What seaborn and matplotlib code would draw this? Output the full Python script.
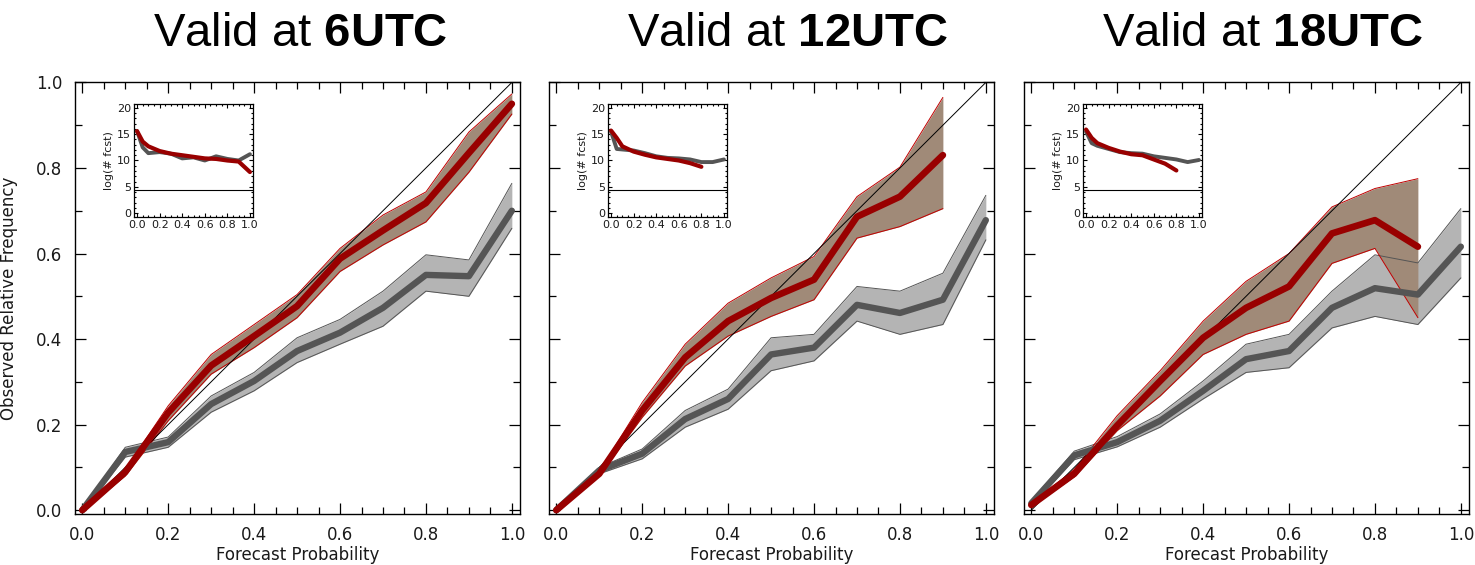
"""
Reliability diagrams valid at 6, 12 and 18 UTC, with forecast-count insets.
"""

import numpy as np
import pandas as pd
import matplotlib
matplotlib.use("Agg")
import matplotlib.pyplot as plt
from matplotlib.ticker import MultipleLocator
import seaborn as sns

sns.set_theme(style="ticks")
plt.rcParams["font.family"] = ["DejaVu Sans"]
plt.rcParams["text.color"] = "black"
plt.rcParams["mathtext.fontset"] = "custom"
plt.rcParams["mathtext.rm"] = "Liberation Sans"
plt.rcParams["mathtext.bf"] = "Liberation Sans:bold"

# ---- data ----
hours = ["6UTC", "12UTC", "18UTC"]
prob = [0.0, 0.1, 0.2, 0.3, 0.4, 0.5, 0.6, 0.7, 0.8, 0.9, 1.0]
inset_prob = [0.0, 0.05, 0.1, 0.2, 0.3, 0.4, 0.5, 0.6, 0.7, 0.8, 0.9, 1.0]

# red curve (ends at 0.9 for 12/18 UTC)
red_6 = [0.0, 0.089, 0.228, 0.338, 0.407, 0.477, 0.588, 0.654, 0.718, 0.835, 0.950]
red_6_lo = [-0.003, 0.080, 0.209, 0.318, 0.380, 0.450, 0.558, 0.620, 0.674, 0.790, 0.926]
red_6_hi = [0.003, 0.095, 0.244, 0.364, 0.434, 0.504, 0.612, 0.690, 0.744, 0.884, 0.973]
red_12 = [0.0, 0.085, 0.233, 0.357, 0.442, 0.496, 0.539, 0.686, 0.733, 0.830]
red_12_lo = [-0.003, 0.080, 0.217, 0.337, 0.407, 0.453, 0.492, 0.636, 0.663, 0.705]
red_12_hi = [0.003, 0.090, 0.252, 0.388, 0.484, 0.543, 0.593, 0.733, 0.802, 0.965]
red_18 = [0.012, 0.085, 0.198, 0.302, 0.403, 0.473, 0.523, 0.647, 0.678, 0.616]
red_18_lo = [0.008, 0.078, 0.186, 0.267, 0.364, 0.411, 0.442, 0.577, 0.612, 0.450]
red_18_hi = [0.016, 0.095, 0.221, 0.326, 0.442, 0.535, 0.600, 0.709, 0.752, 0.775]

# gray curve
gray_6 = [0.0, 0.136, 0.159, 0.248, 0.302, 0.372, 0.415, 0.473, 0.550, 0.547, 0.700]
gray_6_lo = [-0.003, 0.124, 0.147, 0.229, 0.279, 0.345, 0.388, 0.430, 0.512, 0.500, 0.659]
gray_6_hi = [0.003, 0.147, 0.171, 0.267, 0.322, 0.403, 0.446, 0.512, 0.597, 0.585, 0.764]
gray_12 = [0.0, 0.093, 0.132, 0.213, 0.260, 0.364, 0.380, 0.480, 0.461, 0.492, 0.678]
gray_12_lo = [-0.003, 0.085, 0.120, 0.194, 0.236, 0.326, 0.349, 0.442, 0.411, 0.434, 0.632]
gray_12_hi = [0.003, 0.100, 0.143, 0.233, 0.283, 0.403, 0.411, 0.523, 0.512, 0.554, 0.736]
gray_18 = [0.016, 0.128, 0.159, 0.209, 0.279, 0.353, 0.372, 0.473, 0.519, 0.504, 0.616]
gray_18_lo = [0.010, 0.118, 0.148, 0.194, 0.260, 0.322, 0.333, 0.426, 0.453, 0.434, 0.543]
gray_18_hi = [0.022, 0.138, 0.172, 0.225, 0.302, 0.388, 0.411, 0.512, 0.597, 0.578, 0.705]

# inset: log(# fcst)
n_red_6 = [15.6, 13.6, 12.7, 11.8, 11.3, 11.0, 10.7, 10.4, 10.3, 10.0, 9.8, 7.8]
n_gray_6 = [15.6, 12.5, 11.4, 11.6, 11.3, 10.4, 10.6, 10.0, 10.8, 10.3, 10.0, 11.2]
n_red_12 = [15.7, 14.3, 12.7, 11.7, 11.1, 10.6, 10.3, 10.0, 9.5, 8.8]
n_gray_12 = [15.5, 12.2, 12.1, 11.9, 11.4, 10.8, 10.5, 10.4, 10.2, 9.7, 9.7, 10.2]
n_red_18 = [15.9, 14.3, 13.3, 12.4, 11.7, 11.2, 11.0, 10.2, 9.4, 8.1]
n_gray_18 = [15.5, 13.3, 12.8, 12.2, 11.6, 11.4, 11.3, 10.8, 10.5, 10.2, 9.7, 10.1]
n_threshold = 4.4

panels = [
    (red_6, red_6_lo, red_6_hi, gray_6, gray_6_lo, gray_6_hi, n_red_6, n_gray_6),
    (red_12, red_12_lo, red_12_hi, gray_12, gray_12_lo, gray_12_hi, n_red_12, n_gray_12),
    (red_18, red_18_lo, red_18_hi, gray_18, gray_18_lo, gray_18_hi, n_red_18, n_gray_18),
]

RED = "#990000"
RED_EDGE = "#c00000"
BROWN = "#a08a78"
GRAY = "#555555"
GRAY_FILL = "#b4b4b4"

W, H = 1475, 565
fig = plt.figure(figsize=(W / 100, H / 100), dpi=100)
lefts = [75, 549, 1024]

for i, (hour, data) in enumerate(zip(hours, panels)):
    r, r_lo, r_hi, g, g_lo, g_hi, nr, ng = data
    x0 = lefts[i]
    ax = fig.add_axes([x0 / W, (H - 514) / H, 445 / W, 432 / H])
    nr_pts = len(r)

    # bands
    ax.fill_between(prob, g_lo, g_hi, color=GRAY_FILL, lw=0, zorder=1)
    ax.fill_between(prob[:nr_pts], r_lo, r_hi, color=BROWN, lw=0, zorder=2)
    for edge in (g_lo, g_hi):
        ax.plot(prob, edge, color=GRAY, lw=0.7, zorder=3)
    for edge in (r_lo, r_hi):
        ax.plot(prob[:nr_pts], edge, color=RED_EDGE, lw=0.7, zorder=3)

    ax.plot([0, 1], [0, 1], color="black", lw=0.7, zorder=4)

    df = pd.DataFrame({"prob": prob, "obs": g})
    sns.lineplot(data=df, x="prob", y="obs", ax=ax, color=GRAY, lw=4.6, zorder=5)
    df = pd.DataFrame({"prob": prob[:nr_pts], "obs": r})
    sns.lineplot(data=df, x="prob", y="obs", ax=ax, color=RED, lw=4.8, zorder=6)

    ax.set_xlim(-0.017, 1.019)
    ax.set_ylim(-0.009, 1.001)
    ax.xaxis.set_major_locator(MultipleLocator(0.2))
    ax.xaxis.set_minor_locator(MultipleLocator(0.05))
    ax.yaxis.set_major_locator(MultipleLocator(0.2))
    ax.yaxis.set_minor_locator(MultipleLocator(0.1))
    ax.xaxis.set_major_formatter(plt.FormatStrFormatter("%.1f"))
    ax.yaxis.set_major_formatter(plt.FormatStrFormatter("%.1f"))
    ax.tick_params(which="both", direction="in", top=True, right=True,
                   color="black", width=0.9, labelsize=12, pad=9, labelcolor="#1a1a1a")
    ax.tick_params(which="major", length=8)
    ax.tick_params(which="minor", length=5)
    for sp in ax.spines.values():
        sp.set_color("black")
        sp.set_linewidth(1.0)

    ax.set_xlabel("Forecast Probability", fontsize=12, color="#1a1a1a")
    ax.xaxis.set_label_coords(0.5, -0.075)
    if i == 0:
        ax.set_ylabel("Observed Relative Frequency", fontsize=12, color="#1a1a1a")
        ax.yaxis.set_label_coords(-0.128, 0.5)
    else:
        ax.set_ylabel("")
        ax.tick_params(labelleft=False)

    ax.text(0.175, 1.083, f"Valid at $\\mathbf{{{hour}}}$", transform=ax.transAxes,
            fontsize=34, family="Liberation Sans", color="black",
            ha="left", va="baseline")

    # inset: number of forecasts
    ins = fig.add_axes([(x0 + 59) / W, (H - 217) / H, 119 / W, 113 / H])
    ins.set_facecolor("white")
    ins.axhline(n_threshold, color="black", lw=0.8, zorder=1)
    df = pd.DataFrame({"prob": inset_prob, "n": ng})
    sns.lineplot(data=df, x="prob", y="n", ax=ins, color=GRAY, lw=2.8, zorder=2)
    df = pd.DataFrame({"prob": inset_prob[:len(nr)], "n": nr})
    sns.lineplot(data=df, x="prob", y="n", ax=ins, color=RED, lw=3.0, zorder=3)
    ins.set_xlim(-0.027, 1.027)
    ins.set_ylim(-0.76, 20.76)
    ins.xaxis.set_major_locator(MultipleLocator(0.2))
    ins.xaxis.set_minor_locator(MultipleLocator(0.05))
    ins.yaxis.set_major_locator(MultipleLocator(5))
    ins.yaxis.set_minor_locator(MultipleLocator(1))
    ins.xaxis.set_major_formatter(plt.FormatStrFormatter("%.1f"))
    ins.tick_params(which="both", direction="in", top=True, right=True,
                    color="black", width=0.8, labelsize=8, pad=2, labelcolor="#1a1a1a")
    ins.tick_params(which="major", length=3)
    ins.tick_params(which="minor", length=1.5)
    for sp in ins.spines.values():
        sp.set_color("black")
        sp.set_linewidth(0.9)
    ins.set_xlabel("")
    ins.set_ylabel("log(# fcst)", fontsize=8, labelpad=2, color="#1a1a1a")

fig.savefig("out.png", dpi=100, facecolor="white")
